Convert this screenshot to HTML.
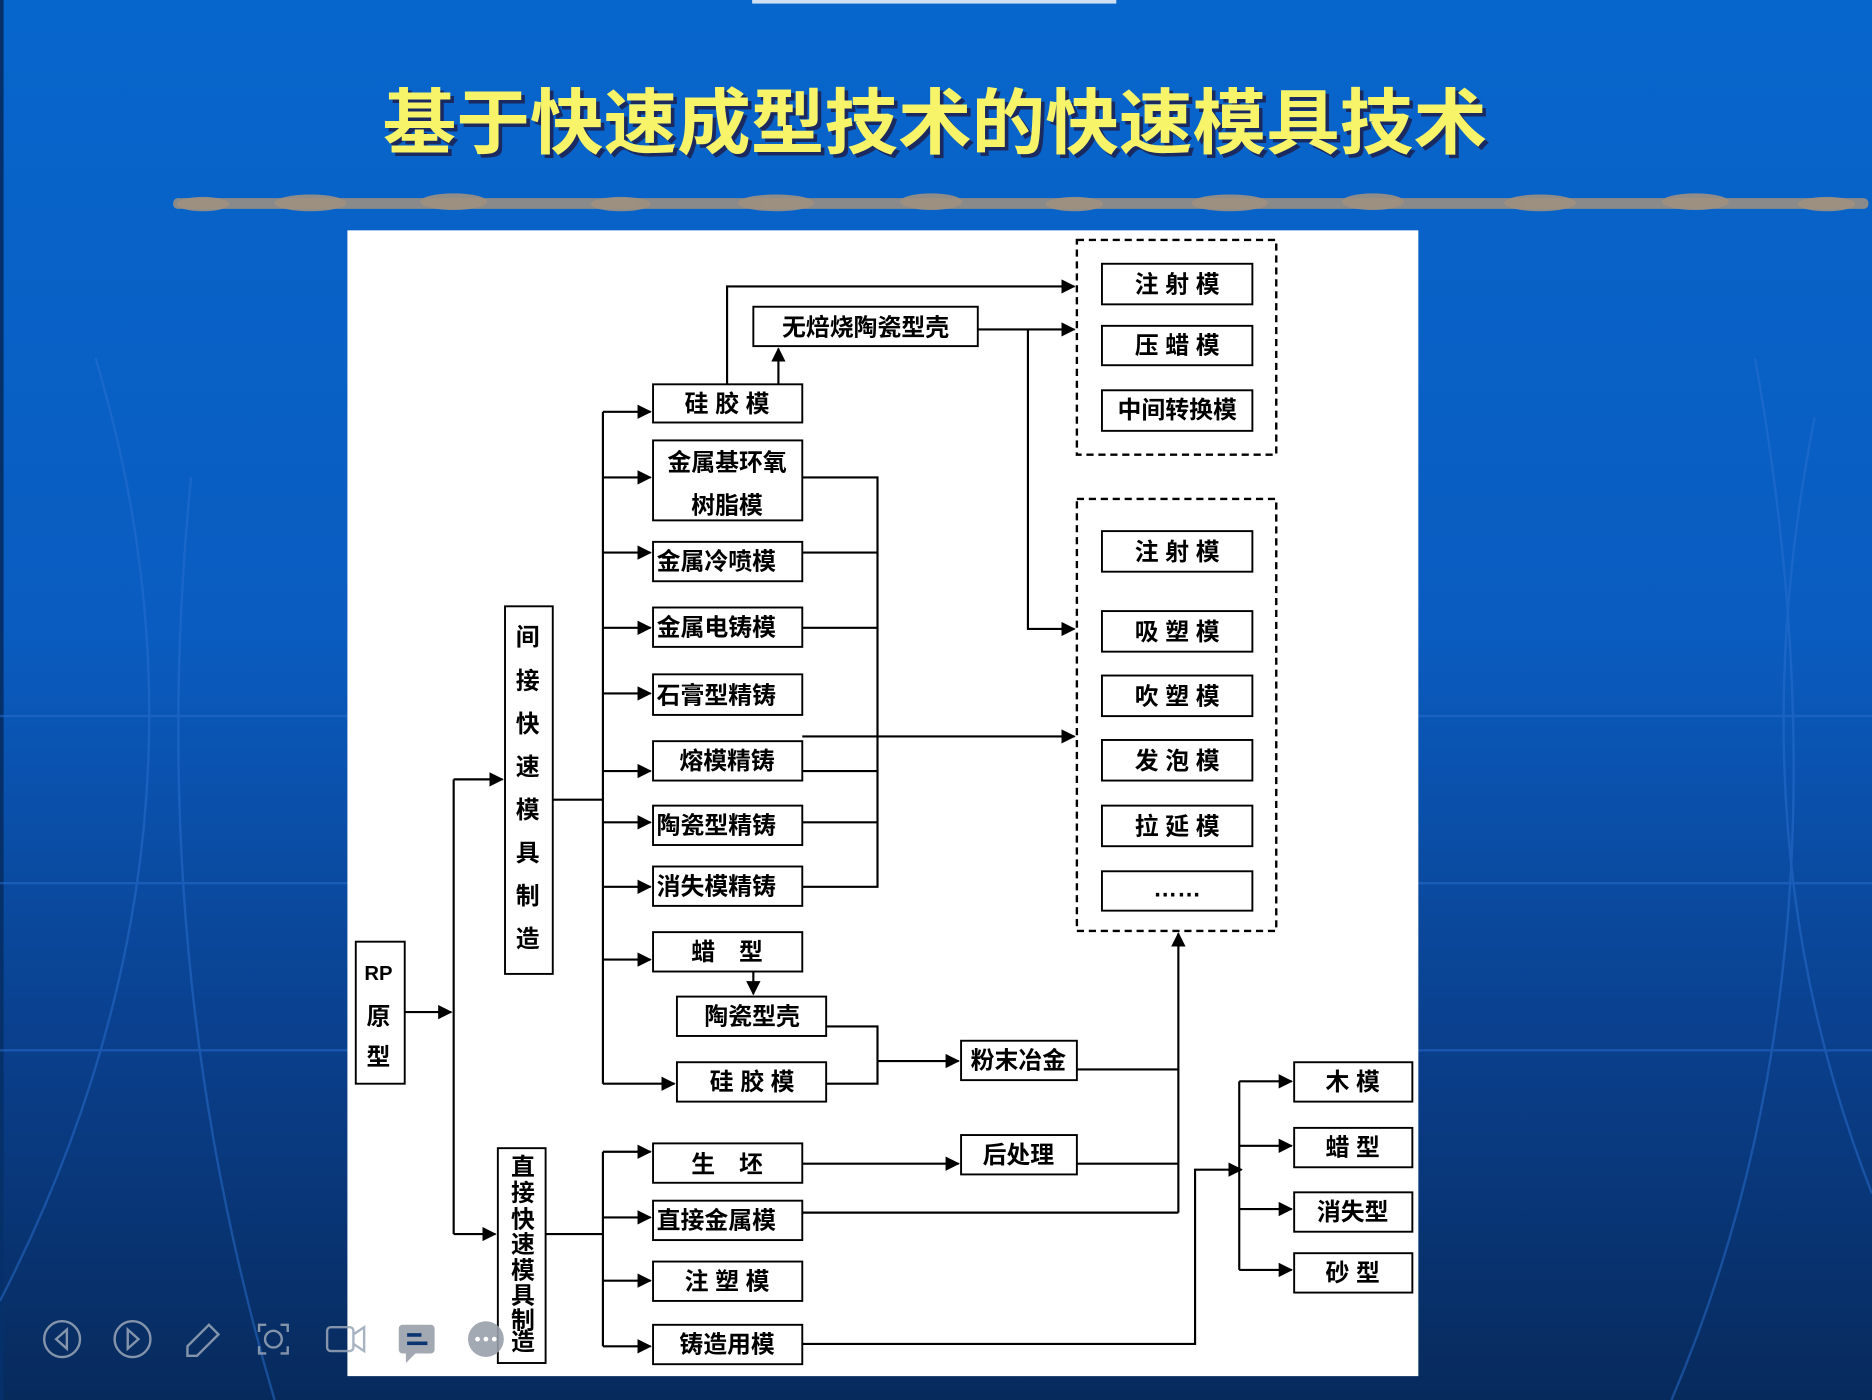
<!DOCTYPE html>
<html><head><meta charset="utf-8"><style>
html,body{margin:0;padding:0;width:1872px;height:1400px;overflow:hidden;background:#0a4aa8}
svg{display:block}
.t{font-family:"Liberation Sans","Noto Sans CJK SC",sans-serif;font-weight:bold;font-size:20px;fill:#000;text-anchor:middle;dominant-baseline:central}
</style></head><body>
<svg width="1872" height="1400" viewBox="0 0 1568 1173" preserveAspectRatio="none" xmlns="http://www.w3.org/2000/svg">
<defs>
<linearGradient id="bg" x1="0" y1="0" x2="0" y2="1">
<stop offset="0" stop-color="#0766cc"/><stop offset="0.45" stop-color="#0a5cc0"/><stop offset="0.75" stop-color="#0a3f8c"/><stop offset="1" stop-color="#072a5c"/>
</linearGradient>
<marker id="a" markerWidth="12" markerHeight="12" refX="11" refY="6" orient="auto" markerUnits="userSpaceOnUse"><path d="M0,0 L12,6 L0,12 z" fill="#000"/></marker>
</defs>
<rect width="1568" height="1173" fill="url(#bg)"/>
<rect x="0" y="0" width="3" height="1173" fill="#05306a"/>
<rect x="630" y="0" width="305" height="3" fill="#cfe0f5"/>
<g stroke="#2a70d0" stroke-width="2" fill="none" opacity="0.5">
<path d="M0,1090 Q200,700 80,300"/><path d="M230,1173 Q120,800 160,400"/><path d="M1400,1173 Q1560,800 1470,300"/><path d="M1568,1000 Q1450,700 1520,350"/>
<path d="M0,600 L1568,600"/><path d="M0,740 L1568,740"/><path d="M0,880 L1568,880"/>
</g>
<text x="783" y="104" textLength="925" lengthAdjust="spacingAndGlyphs" font-family="Liberation Sans,Noto Sans CJK SC,sans-serif" font-weight="bold" font-size="60" fill="#1a2a60" text-anchor="middle" dominant-baseline="central" transform="translate(3,3)">基于快速成型技术的快速模具技术</text>
<text x="783" y="104" textLength="925" lengthAdjust="spacingAndGlyphs" font-family="Liberation Sans,Noto Sans CJK SC,sans-serif" font-weight="bold" font-size="60" fill="#f7f46a" text-anchor="middle" dominant-baseline="central">基于快速成型技术的快速模具技术</text>
<g fill="#8a8a8a">
<rect x="145" y="166" width="1420" height="9" rx="4"/>
</g>
<g fill="#a09080" opacity="0.9">
<ellipse cx="170" cy="171" rx="22" ry="6"/><ellipse cx="260" cy="170" rx="30" ry="7"/><ellipse cx="380" cy="169" rx="28" ry="7"/><ellipse cx="520" cy="171" rx="25" ry="6"/><ellipse cx="650" cy="170" rx="32" ry="7"/><ellipse cx="780" cy="169" rx="26" ry="7"/><ellipse cx="900" cy="171" rx="24" ry="6"/><ellipse cx="1030" cy="170" rx="32" ry="7"/><ellipse cx="1150" cy="169" rx="26" ry="7"/><ellipse cx="1290" cy="170" rx="30" ry="7"/><ellipse cx="1420" cy="169" rx="28" ry="7"/><ellipse cx="1530" cy="171" rx="24" ry="6"/>
</g>
<rect x="291" y="193" width="897" height="960" fill="#fff"/>

<g fill="none" stroke="#000" stroke-width="2" stroke-dasharray="6,4">
<rect x="902" y="201" width="167" height="180"/>
<rect x="902" y="418" width="167" height="362"/>
</g>

<g fill="#fff" stroke="#000" stroke-width="1.6">
<rect x="923" y="221" width="126" height="34"/><rect x="923" y="273" width="126" height="33"/><rect x="923" y="327" width="126" height="34"/>
<rect x="923" y="445" width="126" height="34"/><rect x="923" y="512" width="126" height="34"/><rect x="923" y="566" width="126" height="34"/><rect x="923" y="620" width="126" height="34"/><rect x="923" y="675" width="126" height="34"/><rect x="923" y="730" width="126" height="33"/>
<rect x="631" y="257" width="188" height="33"/>
<rect x="547" y="322" width="125" height="32"/><rect x="547" y="369" width="125" height="67"/><rect x="547" y="454" width="125" height="33"/><rect x="547" y="509" width="125" height="33"/><rect x="547" y="565" width="125" height="34"/><rect x="547" y="621" width="125" height="33"/><rect x="547" y="675" width="125" height="33"/><rect x="547" y="726" width="125" height="33"/><rect x="547" y="781" width="125" height="33"/>
<rect x="567" y="835" width="125" height="33"/><rect x="567" y="890" width="125" height="33"/>
<rect x="805" y="872" width="97" height="33"/><rect x="805" y="951" width="97" height="33"/>
<rect x="423" y="508" width="40" height="308"/><rect x="298" y="789" width="41" height="119"/><rect x="417" y="962" width="40" height="180"/>
<rect x="547" y="958" width="125" height="33"/><rect x="547" y="1006" width="125" height="33"/><rect x="547" y="1057" width="125" height="33"/><rect x="547" y="1110" width="125" height="33"/>
<rect x="1084" y="890" width="99" height="33"/><rect x="1084" y="945" width="99" height="33"/><rect x="1084" y="999" width="99" height="33"/><rect x="1084" y="1050" width="99" height="33"/>
</g>

<g stroke="#000" stroke-width="1.8" fill="none">
<path d="M339,848 H378" marker-end="url(#a)"/>
<path d="M380,653 V1034"/><path d="M380,653 H421" marker-end="url(#a)"/><path d="M380,1034 H415" marker-end="url(#a)"/>
<path d="M463,670 H505"/><path d="M505,345 V908"/>
<path d="M505,345 H545" marker-end="url(#a)"/><path d="M505,400 H545" marker-end="url(#a)"/><path d="M505,463 H545" marker-end="url(#a)"/><path d="M505,526 H545" marker-end="url(#a)"/><path d="M505,581 H545" marker-end="url(#a)"/><path d="M505,646 H545" marker-end="url(#a)"/><path d="M505,689 H545" marker-end="url(#a)"/><path d="M505,743 H545" marker-end="url(#a)"/><path d="M505,804 H545" marker-end="url(#a)"/><path d="M505,908 H565" marker-end="url(#a)"/>
<path d="M672,400 H735 V743 H672"/><path d="M672,463 H735"/><path d="M672,526 H735"/><path d="M672,646 H735"/><path d="M672,689 H735"/>
<path d="M672,617 H900" marker-end="url(#a)"/>
<path d="M609,322 V240 H900" marker-end="url(#a)"/>
<path d="M652,322 V292" marker-end="url(#a)"/>
<path d="M819,276 H900" marker-end="url(#a)"/>
<path d="M861,276 V527 H900" marker-end="url(#a)"/>
<path d="M631,814 V833" marker-end="url(#a)"/>
<path d="M692,860 H735 V908 H692"/><path d="M735,889 H803" marker-end="url(#a)"/>
<path d="M902,896 H987"/><path d="M987,1016 V782" marker-end="url(#a)"/>
<path d="M672,975 H803" marker-end="url(#a)"/><path d="M902,975 H987"/>
<path d="M672,1016 H987"/>
<path d="M457,1034 H505"/><path d="M505,965 V1128"/>
<path d="M505,965 H545" marker-end="url(#a)"/><path d="M505,1020 H545" marker-end="url(#a)"/><path d="M505,1073 H545" marker-end="url(#a)"/><path d="M505,1128 H545" marker-end="url(#a)"/>
<path d="M672,1126 H1001 V980 H1040" marker-end="url(#a)"/>
<path d="M1038,906 V1064"/>
<path d="M1038,906 H1082" marker-end="url(#a)"/><path d="M1038,960 H1082" marker-end="url(#a)"/><path d="M1038,1013 H1082" marker-end="url(#a)"/><path d="M1038,1064 H1082" marker-end="url(#a)"/>
</g>

<g class="t">
<text x="986" y="239" class="t">注 射 模</text><text x="986" y="290" class="t">压 蜡 模</text><text x="986" y="344" class="t">中间转换模</text>
<text x="986" y="463" class="t">注 射 模</text><text x="986" y="530" class="t">吸 塑 模</text><text x="986" y="584" class="t">吹 塑 模</text><text x="986" y="638" class="t">发 泡 模</text><text x="986" y="693" class="t">拉 延 模</text><text x="986" y="745" class="t">……</text>
<text x="725" y="275" class="t">无焙烧陶瓷型壳</text>
<text x="609" y="339" class="t">硅 胶 模</text>
<text x="609" y="388" class="t">金属基环氧</text><text x="609" y="424" class="t">树脂模</text>
<text x="600" y="471" class="t">金属冷喷模</text><text x="600" y="526" class="t">金属电铸模</text><text x="600" y="583" class="t">石膏型精铸</text><text x="609" y="638" class="t">熔模精铸</text><text x="600" y="692" class="t">陶瓷型精铸</text><text x="600" y="743" class="t">消失模精铸</text>
<text x="609" y="798" class="t">蜡　型</text>
<text x="630" y="852" class="t">陶瓷型壳</text><text x="630" y="907" class="t">硅 胶 模</text>
<text x="853" y="889" class="t">粉末冶金</text><text x="853" y="968" class="t">后处理</text>
<text x="609" y="976" class="t">生　坯</text><text x="600" y="1023" class="t">直接金属模</text><text x="609" y="1074" class="t">注 塑 模</text><text x="609" y="1127" class="t">铸造用模</text>
<text x="1133" y="907" class="t">木 模</text><text x="1133" y="962" class="t">蜡 型</text><text x="1133" y="1016" class="t">消失型</text><text x="1133" y="1067" class="t">砂 型</text>
<text x="442" y="534" class="t">间</text><text x="442" y="571" class="t">接</text><text x="442" y="607" class="t">快</text><text x="442" y="643" class="t">速</text><text x="442" y="679" class="t">模</text><text x="442" y="715" class="t">具</text><text x="442" y="751" class="t">制</text><text x="442" y="787" class="t">造</text>
<text x="317" y="816" class="t" style="font-size:17px">RP</text><text x="317" y="852" class="t">原</text><text x="317" y="886" class="t">型</text>
<text x="438" y="978" class="t">直</text><text x="438" y="1000" class="t">接</text><text x="438" y="1022" class="t">快</text><text x="438" y="1043" class="t">速</text><text x="438" y="1065" class="t">模</text><text x="438" y="1086" class="t">具</text><text x="438" y="1107" class="t">制</text><text x="438" y="1125" class="t">造</text>
</g>

<g stroke="#9aa6b8" stroke-width="2" fill="none" opacity="0.85">
<circle cx="52" cy="1122" r="15"/><path d="M56,1114 L47,1122 L56,1130 z"/>
<circle cx="111" cy="1122" r="15"/><path d="M107,1114 L116,1122 L107,1130 z"/>
<path d="M157,1136 V1128 L175,1110 L183,1118 L165,1136 z"/>
<path d="M217,1116 V1110 H223 M235,1110 H241 V1116 M241,1128 V1134 H235 M223,1134 H217 V1128"/><circle cx="229" cy="1122" r="7"/>
<rect x="274" y="1112" width="22" height="20" rx="3"/><path d="M296,1118 L305,1112 V1132 L296,1126"/>
</g>
<g fill="#9aa0aa" opacity="0.9">
<rect x="334" y="1110" width="30" height="24" rx="3"/><path d="M340,1134 L340,1142 L348,1134 z"/>
<circle cx="407" cy="1122" r="15"/>
</g>
<g fill="#0a3570"><rect x="341" y="1117" width="12" height="3"/><rect x="341" y="1124" width="17" height="3"/></g>
<g fill="#fff"><circle cx="400" cy="1122" r="2"/><circle cx="407" cy="1122" r="2"/><circle cx="414" cy="1122" r="2"/></g>
</svg>
</body></html>
